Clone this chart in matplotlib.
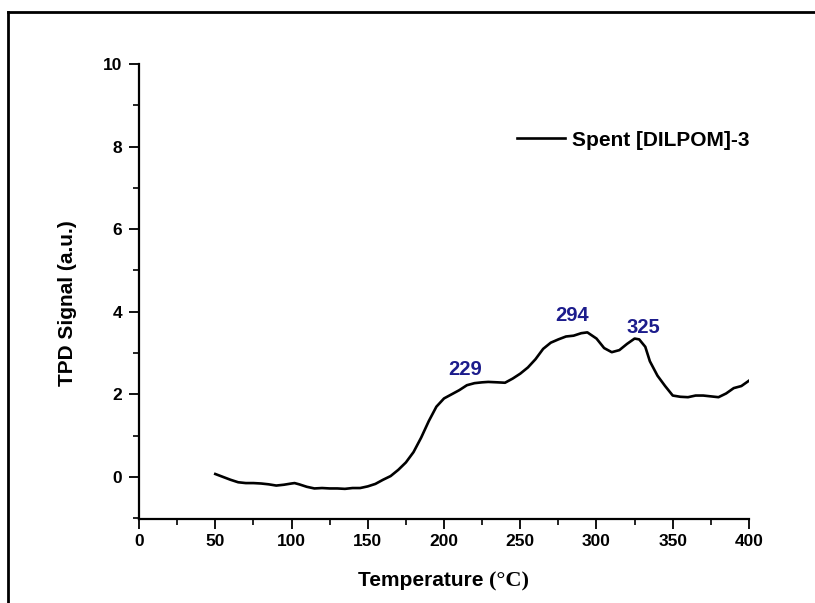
import matplotlib
matplotlib.use("Agg")
import matplotlib.pyplot as plt
from matplotlib.lines import Line2D
from matplotlib.ticker import MultipleLocator

plt.rcParams['font.family'] = ['Liberation Sans', 'DejaVu Sans']
plt.rcParams['font.weight'] = 'bold'

# TPD trace
temp = [50, 55, 60, 65, 70, 75, 80, 85, 90, 95, 100, 102, 105, 110, 115, 120, 125,
        130, 135, 140, 145, 150, 155, 160, 165, 170, 175, 180, 185, 190, 195, 200,
        205, 210, 215, 220, 225, 229, 235, 240, 245, 250, 255, 260, 265, 270, 275,
        280, 285, 290, 294, 300, 305, 310, 315, 320, 325, 328, 332, 335, 340, 345,
        350, 355, 360, 365, 370, 375, 380, 385, 390, 395, 400]
signal = [0.07, 0.0, -0.07, -0.13, -0.15, -0.15, -0.16, -0.18, -0.21, -0.19, -0.16,
          -0.15, -0.18, -0.24, -0.28, -0.27, -0.28, -0.28, -0.29, -0.27, -0.27, -0.23,
          -0.17, -0.07, 0.02, 0.17, 0.35, 0.6, 0.95, 1.35, 1.7, 1.9, 2.0, 2.1, 2.22,
          2.27, 2.29, 2.3, 2.29, 2.28, 2.38, 2.5, 2.65, 2.85, 3.1, 3.25, 3.33, 3.4,
          3.42, 3.48, 3.5, 3.35, 3.12, 3.02, 3.07, 3.22, 3.35, 3.33, 3.15, 2.8, 2.45,
          2.2, 1.97, 1.94, 1.93, 1.97, 1.97, 1.95, 1.93, 2.02, 2.15, 2.2, 2.33]

peak_labels = ['229', '294', '325']
peak_pos = [(214, 2.6), (284, 3.92), (330.5, 3.63)]

fig = plt.figure(figsize=(8.15, 6.03), dpi=100)
ax = fig.add_axes([0.1706, 0.1393, 0.7484, 0.7546])

ax.plot(temp, signal, color='black', lw=1.9, label='Spent [DILPOM]-3')

for lab, (x, y) in zip(peak_labels, peak_pos):
    ax.text(x, y, lab, color='#1c1c8c', fontsize=14.5, fontweight='bold',
            ha='center', va='center')

ax.set_xlim(0, 400)
ax.set_ylim(-1.02, 10)
ax.xaxis.set_major_locator(MultipleLocator(50))
ax.xaxis.set_minor_locator(MultipleLocator(25))
ax.yaxis.set_major_locator(MultipleLocator(2))
ax.yaxis.set_minor_locator(MultipleLocator(1))
ax.spines['top'].set_visible(False)
ax.spines['right'].set_visible(False)
ax.spines['left'].set_bounds(-1.02, 10)
for s in ('left', 'bottom'):
    ax.spines[s].set_linewidth(1.6)
ax.tick_params(which='major', direction='out', length=7, width=1.3, labelsize=12.5)
ax.tick_params(axis='y', which='major', pad=5)
ax.tick_params(axis='x', which='major', pad=4)
ax.tick_params(which='minor', direction='out', length=4, width=1.2)
ax.set_yticks([0, 2, 4, 6, 8, 10])

ax.set_ylabel('TPD Signal (a.u.)', fontsize=15, fontweight='bold')
ax.yaxis.set_label_coords(-0.102, 0.475)

# x label: sans text with serif "(°C)"
fig.text(0.6, 0.0365, 'Temperature ', fontsize=15, fontweight='bold',
         ha='right', va='center')
fig.text(0.6, 0.0365, '(°C)', fontsize=16, fontweight='bold',
         family='Liberation Serif', ha='left', va='center')

leg = ax.legend(loc='center left', bbox_to_anchor=(517 / 815, 1 - 140 / 603),
                bbox_transform=fig.transFigure, frameon=False, fontsize=15,
                handlelength=2.3, handletextpad=0.35, borderpad=0, borderaxespad=0)

# outer frame (top and left edges visible)
fig.add_artist(Line2D([8 / 815, 1.0], [1 - 12 / 603, 1 - 12 / 603],
                      transform=fig.transFigure, color='black', lw=2))
fig.add_artist(Line2D([8 / 815, 8 / 815], [0, 1 - 12 / 603],
                      transform=fig.transFigure, color='black', lw=2))

fig.savefig('out.png', dpi=100)
